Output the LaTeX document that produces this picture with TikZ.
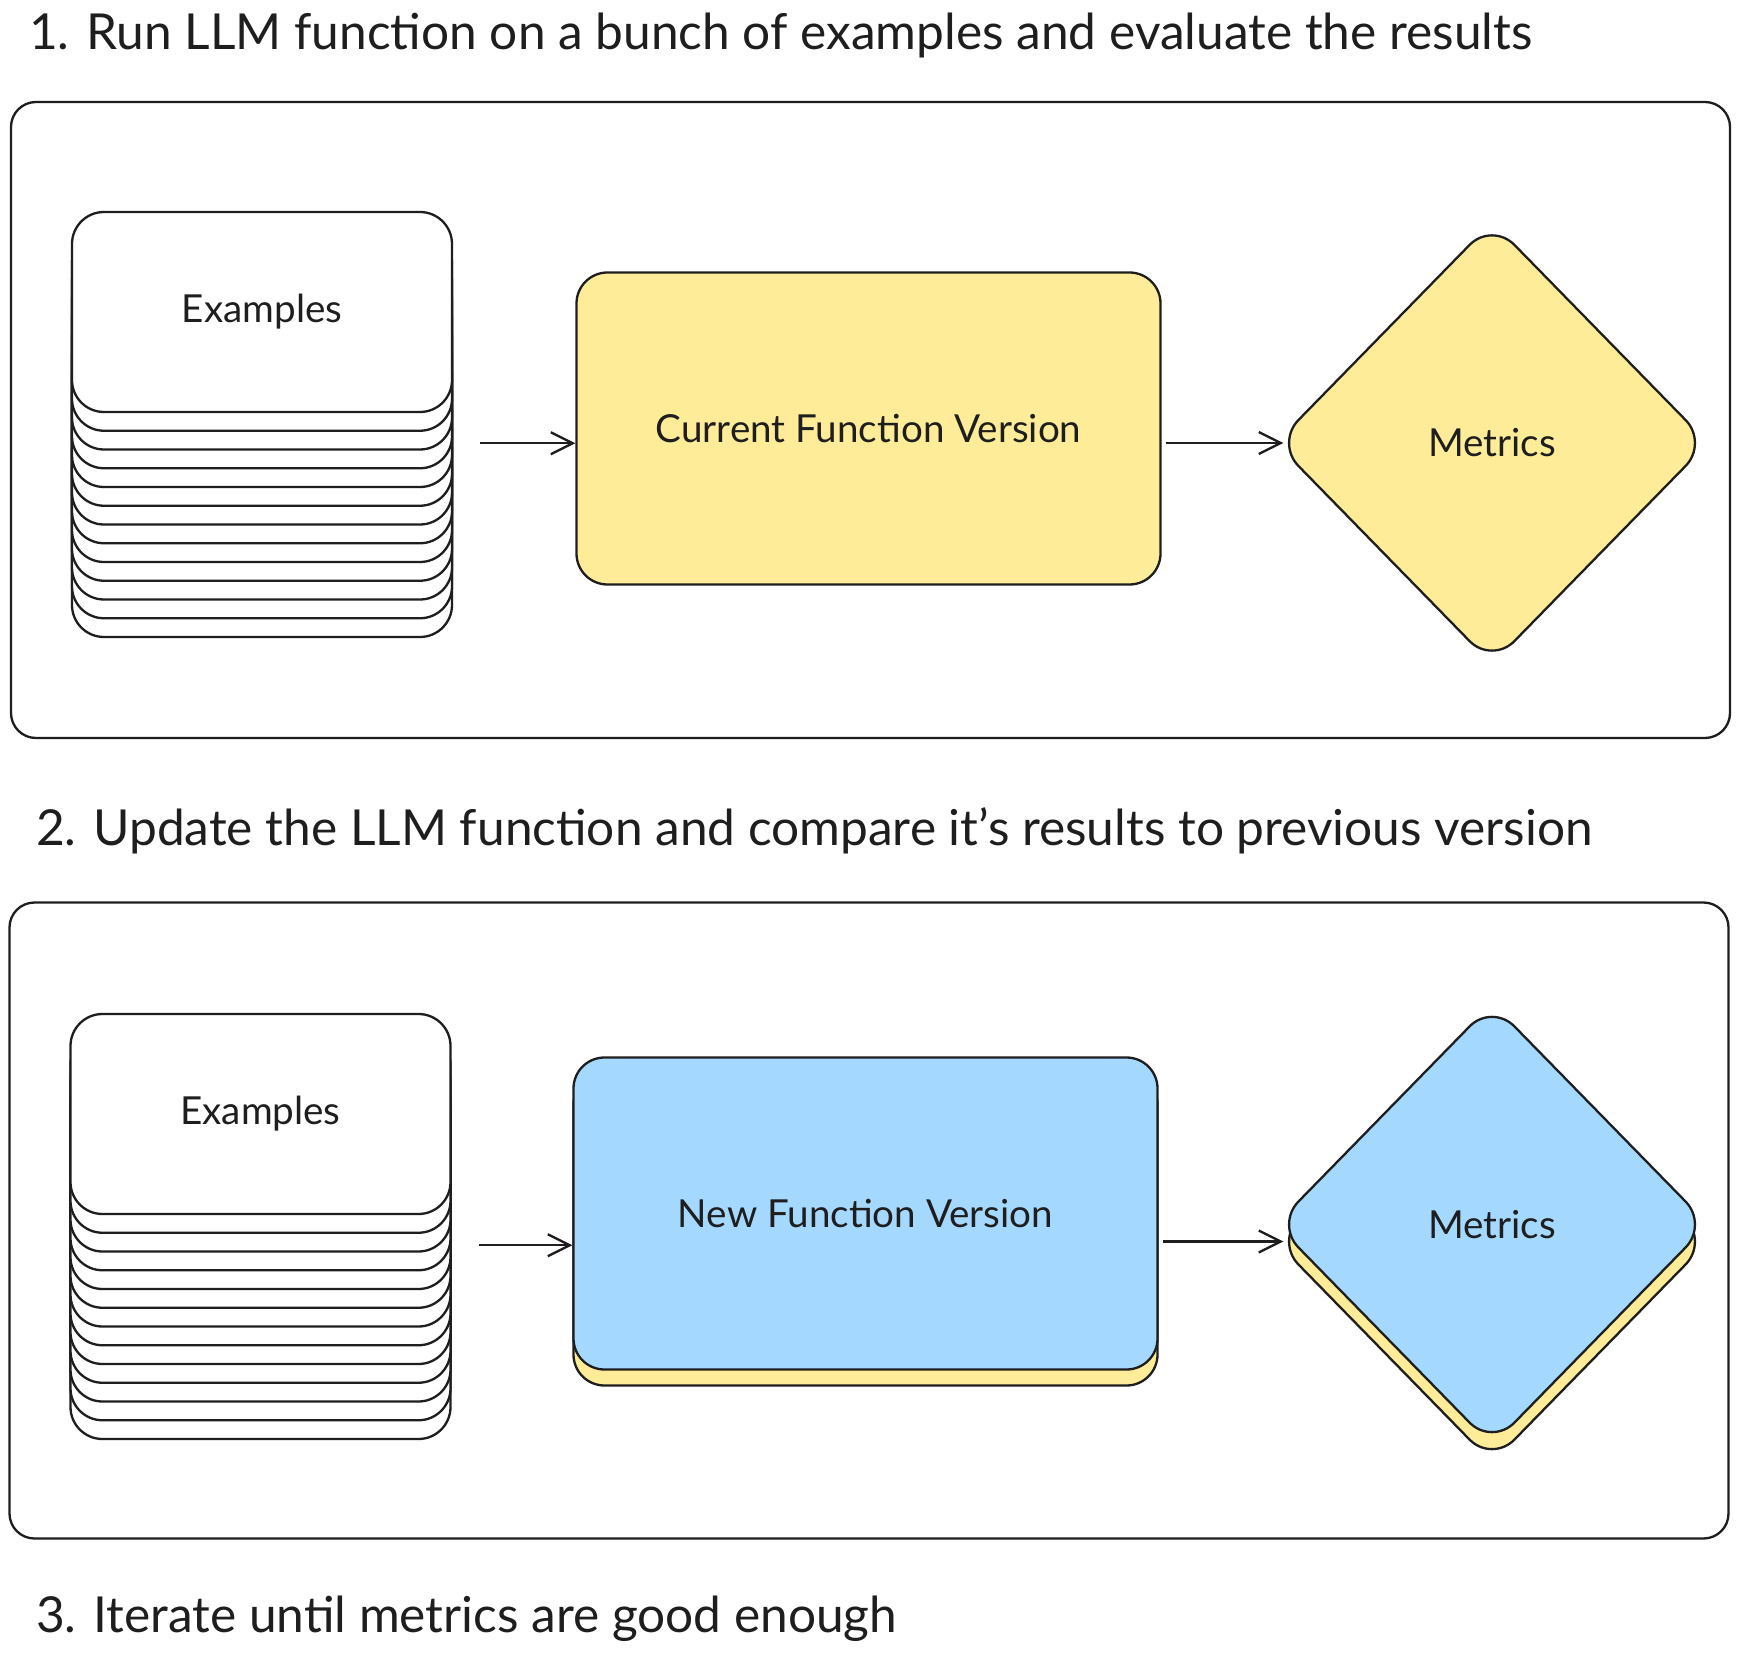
\documentclass[tikz,border=0pt]{standalone}
\usepackage{fontspec}
\setmainfont{Lato}
\usetikzlibrary{arrows.meta,calc,shapes.geometric}
\definecolor{ink}{HTML}{1E1E1E}
\definecolor{yel}{HTML}{FFEC99}
\definecolor{blu}{HTML}{A5D8FF}
\begin{document}
\begin{tikzpicture}[x=0.5pt,y=-0.5pt,line width=1.15pt,
  title/.style={anchor=base west,inner sep=0pt,text=ink,font=\fontsize{24.8}{28}\selectfont},
  label/.style={text=ink,font=\fontsize{19.3}{22}\selectfont},
  frame/.style={draw=ink,rounded corners=12.5pt,minimum width=859.5pt,minimum height=318pt,inner sep=0pt},
  card/.style={draw=ink,fill=white,rounded corners=16pt,minimum width=190pt,minimum height=100pt,inner sep=0pt,label},
  fnbox/.style={draw=ink,rounded corners=15.5pt,minimum width=292pt,minimum height=156pt,inner sep=0pt,label},
  dia/.style={diamond,draw=ink,rounded corners=16pt,minimum width=216.5pt,minimum height=221.5pt,inner sep=0pt,label},
  arr/.style={draw=ink,-{Straight Barb[length=11pt,width=11pt]}}]
\useasboundingbox (0,0) rectangle (1739,1657);
\fill[white] (0,0) rectangle (1739,1657);

% titles
\node[title] (t1) at (28,50) {1. Run LLM function on a bunch of examples and evaluate the results};
\node[title] (t2) at (35,845) {2. Update the LLM function and compare it’s results to previous version};
\node[title] (t3) at (35,1632) {3. Iterate until metrics are good enough};

% frames
\node[frame] (fr1) at (870.5,420) {};
\node[frame] (fr2) at (869,1220.5) {};

% section 1
\foreach \i in {12,...,1}{\node[card] (sa\i) at (262,{312+18.75*\i}) {};}
\node[card] (ex1) at (262,312) {Examples};
\node[fnbox,fill=yel] (fn1) at (868.5,428.5) {Current Function Version};
\node[dia,fill=yel] (m1) at (1492,443) {Metrics};
\draw[arr] ($(sa7.east)+(27,0)$) -- (fn1.west |- sa7.east);
\draw[arr] ($(fn1.east |- m1.west)+(4,0)$) -- ($(m1.west)+(9,0)$);

% section 2
\foreach \i in {12,...,1}{\node[card] (sb\i) at (260.5,{1114+18.75*\i}) {};}
\node[card] (ex2) at (260.5,1114) {Examples};
\node[fnbox,fill=yel] (fn2s) at (865.5,1229.5) {};
\node[fnbox,fill=blu] (fn2) at (865.5,1213.5) {New Function Version};
\node[dia,fill=yel] (m2s) at (1492,1241.5) {};
\node[dia,fill=blu] (m2) at (1492,1224.5) {Metrics};
\draw[arr] ($(sb7.east)+(27,0)$) -- (fn2.west |- sb7.east);
\draw[arr] ($(fn2.east |- m2s.west)+(4,0)$) -- ($(m2s.west)+(9,0)$);
\end{tikzpicture}
\end{document}
